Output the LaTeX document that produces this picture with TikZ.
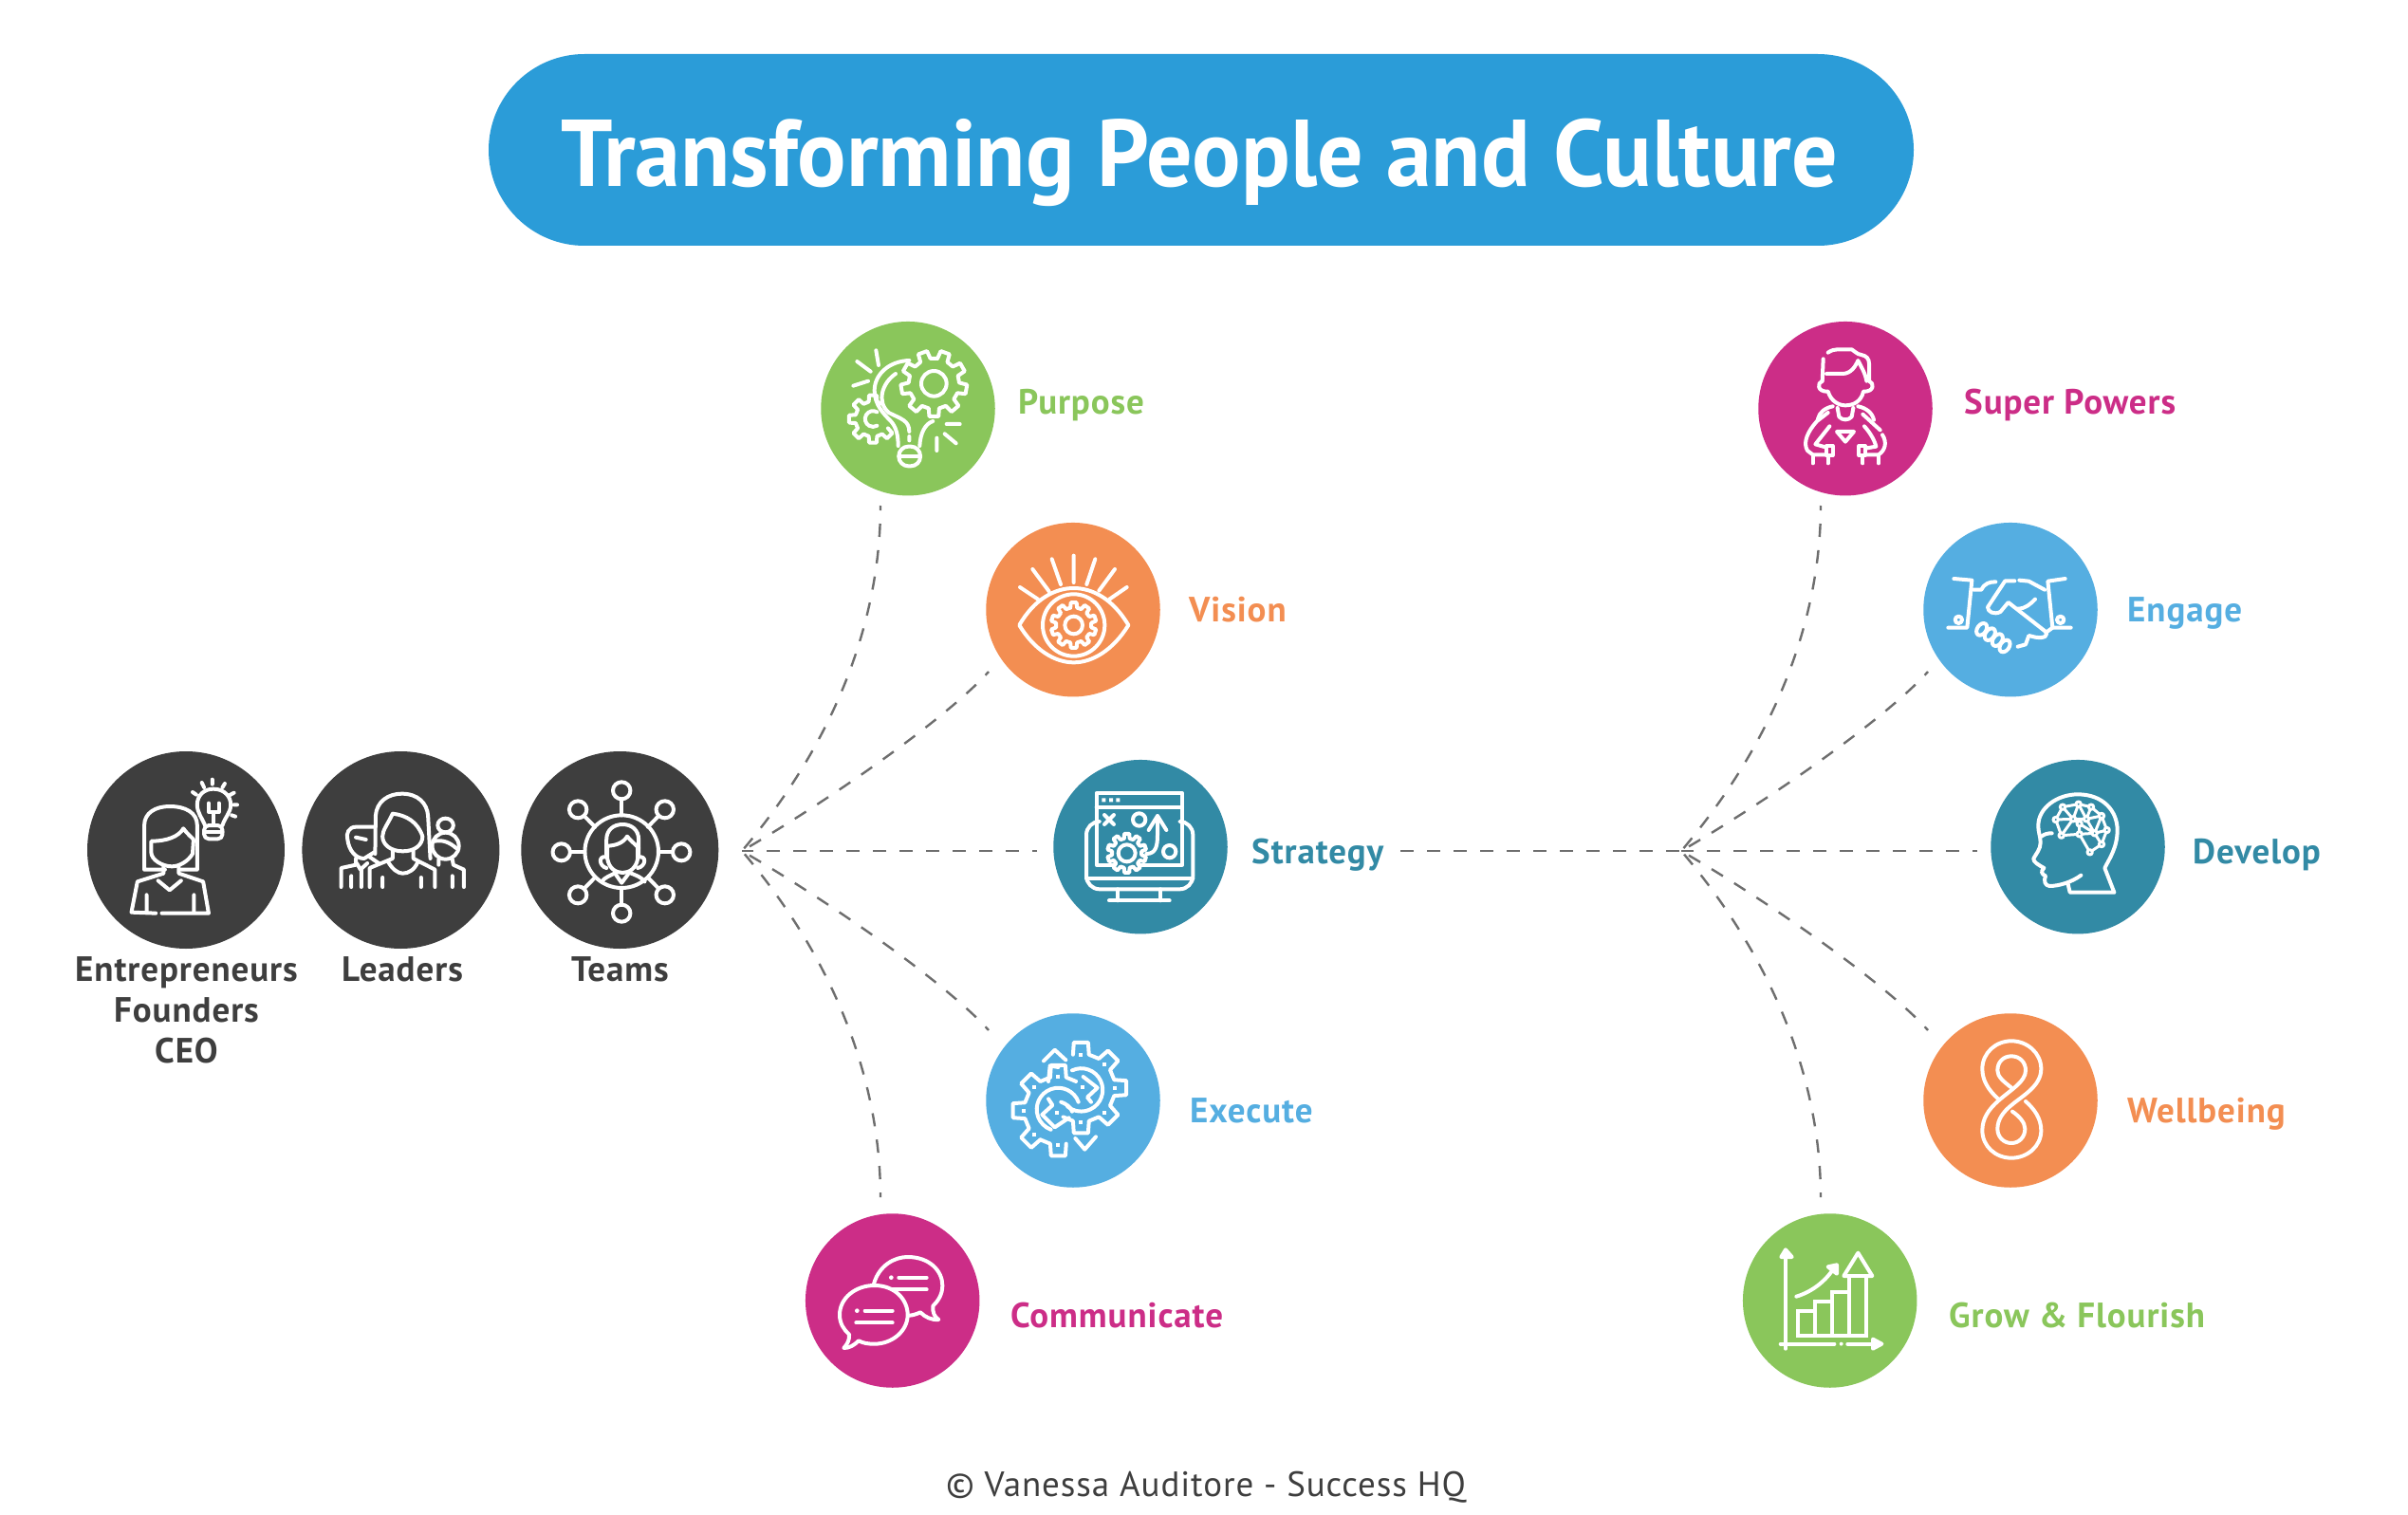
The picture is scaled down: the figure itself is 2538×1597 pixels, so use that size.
\documentclass[tikz,border=0pt]{standalone}
\usepackage{fontspec}
\setmainfont{PT Sans}
\newfontfamily\labfont[LetterSpace=2.5]{PT Sans}
\newfontfamily\titlefont[FakeStretch=0.96]{PT Sans}
\definecolor{cgreen}{HTML}{8AC65B}
\definecolor{corange}{HTML}{F38E52}
\definecolor{cteal}{HTML}{328AA5}
\definecolor{cblue}{HTML}{55AEE1}
\definecolor{cmag}{HTML}{CC2D87}
\definecolor{cdark}{HTML}{3E3E3E}
\definecolor{cpill}{HTML}{2B9CD8}
\definecolor{cconn}{HTML}{6E6E6E}
\tikzset{
  ic/.style={draw=white,line width=4pt,line cap=round,line join=round},
  disc/.style={circle,inner sep=0pt,minimum size=183.5pt,fill=#1},
  bigdisc/.style={circle,inner sep=0pt,minimum size=208pt,fill=cdark},
  lab/.style={anchor=base west,inner sep=0pt,font=\labfont\bfseries\fontsize{37}{42}\selectfont,text=#1},
  darklab/.style={inner sep=0pt,font=\labfont\bfseries\fontsize{37}{43}\selectfont,text=cdark,align=center},
  conn/.style={draw=cconn,line width=2.4pt,dash pattern=on 14pt off 14pt,dash phase=9pt},
  zoomin/.style 2 args={shift={(#1,#2)},scale=1/3},
  zoomleft/.style={shift={(60,770)},xscale=1/2.063,yscale=1/3}
}
\newcommand{\geararc}[9][]{\begin{scope}[shift={(#2,#3)}]
 \pgfmathsetmacro\gstep{360/#6}\pgfmathsetmacro\ghalf{0.2*\gstep}\pgfmathsetmacro\ghalfb{0.3*\gstep}
 \draw[ic,#1] ({#7+#8*\gstep-\ghalfb}:#4) \foreach \k in {#8,...,#9} { -- ({#7+\k*\gstep-\ghalf}:#5) -- ({#7+\k*\gstep+\ghalf}:#5) -- ({#7+\k*\gstep+\ghalfb}:#4) -- ({#7+(\k+1)*\gstep-\ghalfb}:#4)};
 \end{scope}}
\begin{document}
\begin{tikzpicture}[x=1pt,y=-1pt]
\path[fill=white,use as bounding box] (0,0) rectangle (2538,1597);
% title
\node[fill=cpill,rounded corners=101pt,minimum width=1502pt,minimum height=202pt,inner sep=0pt] (pill) at (1266,158) {};
\node[anchor=base,inner sep=0pt,text=white,font=\titlefont\bfseries\fontsize{100}{110}\selectfont] (title) at (1264.5,197) {Transforming People and Culture};
% dark circles
\node[bigdisc] (ent) at (196,896) {};
\node[bigdisc] (lead) at (422.4,896) {};
\node[bigdisc] (teams) at (653.3,896) {};
\node[darklab,anchor=north] (entL) at (196.5,1008) {Entrepreneurs\\Founders\\CEO};
\node[darklab,anchor=base] (leadL) at (424,1034) {Leaders};
\node[darklab,anchor=base] (teamsL) at (653.5,1034) {Teams};
% coloured discs
\node[disc=cgreen] (purpose) at (957,430.7) {};
\node[disc=corange] (vision) at (1131,642.7) {};
\node[disc=cteal] (strategy) at (1202,892.7) {};
\node[disc=cblue] (execute) at (1131,1160) {};
\node[disc=cmag] (communicate) at (940.7,1371) {};
\node[disc=cmag] (super) at (1945,430.7) {};
\node[disc=cblue] (engage) at (2119,642.7) {};
\node[disc=cteal] (develop) at (2190,892.7) {};
\node[disc=corange] (wellbeing) at (2119,1160) {};
\node[disc=cgreen] (grow) at (1928.7,1371) {};
% labels
\node[lab=cgreen] (purposeL) at (1073,436) {Purpose};
\node[lab=corange] (visionL) at (1253,655) {Vision};
\node[lab=cteal] (strategyL) at (1319,910) {Strategy};
\node[lab=cblue] (executeL) at (1254,1183) {Execute};
\node[lab=cmag] (communicateL) at (1065,1399) {Communicate};
\node[lab=cmag] (superL) at (2070,436) {Super Powers};
\node[lab=cblue] (engageL) at (2242,655) {Engage};
\node[lab=cteal] (developL) at (2311,910) {Develop};
\node[lab=corange] (wellbeingL) at (2242,1183) {Wellbeing};
\node[lab=cgreen] (growL) at (2054,1399) {Grow \& Flourish};
\node[anchor=base,inner sep=0pt,text=cdark,font=\labfont\fontsize{37}{42}\selectfont] (copy) at (1271,1577) {© Vanessa Auditore - Success HQ};
% connector ends
\coordinate (hubL) at (782,897);
\coordinate (hubR) at (1772,897);
\coordinate (pE) at (928,533);
\coordinate (vE) at (1042,708);
\coordinate (sE) at (1093,897);
\coordinate (xE) at (1042,1086);
\coordinate (cE) at (928,1262);
\coordinate (spE) at (1919,533);
\coordinate (enE) at (2032,708);
\coordinate (deE) at (2084,897);
\coordinate (weE) at (2032,1086);
\coordinate (grE) at (1919,1262);
\coordinate (stOut) at (1476,897);
\draw[conn] (pE) .. controls (928,640) and (890,770) .. (hubL);
\draw[conn] (vE) .. controls (1000,755) and (880,840) .. (hubL);
\draw[conn] (sE) -- (hubL);
\draw[conn] (xE) .. controls (1000,1039) and (880,954) .. (hubL);
\draw[conn] (cE) .. controls (928,1154) and (890,1024) .. (hubL);
\draw[conn] (spE) .. controls (1919,640) and (1880,770) .. (hubR);
\draw[conn] (enE) .. controls (1990,755) and (1870,840) .. (hubR);
\draw[conn] (deE) -- (hubR);
\draw[conn] (weE) .. controls (1990,1039) and (1870,954) .. (hubR);
\draw[conn] (grE) .. controls (1919,1154) and (1880,1024) .. (hubR);
\draw[conn,dash phase=0pt] (stOut) -- (hubR);

% ---------- Purpose
\begin{scope}[zoomin={840}{320}]
\draw[ic] (250,148)--(258,195) (190,183)--(233,215) (178,260)--(225,245) (473,381)--(515,381) (467,412)--(503,442) (442,425)--(442,465);
\draw[ic] (355,180) .. controls (290,182) and (245,225) .. (245,275) .. controls (245,320) and (275,350) .. (295,370) .. controls (315,390) and (320,420) .. (320,450);
\draw[ic] (312,222) .. controls (270,250) and (250,310) .. (290,345) .. controls (330,365) and (355,370) .. (355,405) (355,420)--(355,433);
\draw[ic] (430,372) .. controls (405,380) and (390,410) .. (388,450);
\draw[ic,rounded corners=10pt] (322,452) -- (322,514) -- (390,514) -- (390,452) -- cycle;
\draw[ic] (322,483)--(390,483);
\geararc{433}{253}{80}{105}{9}{-70}{0}{8}
\draw[ic] (433,253) circle (40);
\geararc{240}{365}{56}{76}{8}{45}{0}{5}
\draw[ic] (253,343) arc (-60:-300:25);
% ---------- Vision
\draw[ic] (703,1017) .. controls (750,935) and (815,900) .. (875,900) .. controls (935,900) and (1000,935) .. (1048,1017) .. controls (1000,1095) and (935,1135) .. (875,1135) .. controls (815,1135) and (750,1095) .. cycle;
\draw[ic] (875,1017) circle (98);
\geararc{875}{1017}{56}{72}{10}{-90}{0}{9}
\draw[ic] (875,1017) circle (28);
\draw[ic] (705,897)--(762,935) (745,840)--(797,910) (806,808)--(834,888) (875,797)--(875,882) (943,808)--(916,888) (1005,840)--(955,908) (1043,897)--(988,935);
\end{scope}
% ---------- Strategy
\begin{scope}[zoomin={1090}{780}]
\draw[ic,line cap=butt] (197,168) rectangle (468,395);
\draw[ic] (197,212)--(468,212);
\fill[white] (214,184) rectangle (226,196) (237,184) rectangle (249,196) (259,184) rectangle (271,196);
\draw[ic] (222,237)--(252,267) (252,237)--(222,267);
\draw[ic] (332,252) circle (20) (428,353) circle (20);
\draw[ic] (355,360) .. controls (385,360) and (390,335) .. (390,300) -- (390,240);
\draw[ic] (362,285)--(390,240)--(418,285);
\geararc[fill=cteal]{293}{358}{47}{62}{10}{-90}{0}{9}
\draw[ic] (293,358) circle (27);
\draw[ic,rounded corners=14pt] (197,258) -- (165,258) -- (165,472) -- (502,472) -- (502,258) -- (468,258);
\draw[ic] (165,437)--(502,437) (265,472)--(265,508) (400,472)--(400,508) (237,508)--(428,508);
\end{scope}
% ---------- Execute
\begin{scope}[zoomin={840}{1060}]
\geararc{898}{260}{108}{145}{8}{-90}{0}{4}
\draw[ic] (780,175)--(815,140)--(850,172);
\geararc{826}{332}{108}{145}{8}{-90}{0}{0}
\geararc{826}{332}{108}{145}{8}{-90}{5}{7}
\draw[ic] (826,195)--(800,190)--(795,240);
\geararc{826}{332}{108}{145}{8}{-90}{4}{4}
\draw[ic] (880,420)--(910,455)--(945,415);
\draw[ic] (870,205) arc (-115:130:68);
\draw[ic] (890,305) arc (-20:-250:68);
\draw[ic] (835,305) .. controls (850,310) and (865,320) .. (870,335);
\draw[ic] (905,225)--(950,260)--(918,290)--(930,305);
\draw[ic] (795,295)--(808,315)--(775,345)--(815,385)--(860,355);
\foreach \a/\b in {898/155,972/185,1005/260,972/338,898/368,826/225,902/257,822/338,750/258,718/332,750/408,826/440}{\fill[white] (\a-6,\b-6) rectangle (\a+6,\b+6);}
\end{scope}
% ---------- Communicate
\begin{scope}[zoomin={840}{1060}]
\draw[ic] (243,880) .. controls (260,820) and (310,795) .. (350,795) .. controls (420,795) and (460,840) .. (460,885) .. controls (460,915) and (445,935) .. (430,950) .. controls (428,970) and (435,985) .. (448,993) .. controls (425,995) and (405,985) .. (390,970) .. controls (380,975) and (365,980) .. (355,980);
\draw[ic] (245,885) .. controls (310,885) and (350,930) .. (350,978) .. controls (350,1030) and (300,1070) .. (245,1070) .. controls (225,1070) and (210,1068) .. (195,1060) .. controls (180,1075) and (165,1083) .. (148,1083) .. controls (160,1070) and (167,1055) .. (165,1040) .. controls (148,1025) and (135,1005) .. (135,978) .. controls (135,925) and (185,885) .. cycle;
\draw[ic] (322,860)--(410,860) (302,898)--(410,898) (215,965)--(302,965) (187,1003)--(302,1003);
\fill[white] (298,860) circle (7) (190,965) circle (7);
\end{scope}
% ---------- Super Powers
\begin{scope}[zoomin={1830}{320}]
\draw[ic] (290,155) .. controls (300,148) and (310,145) .. (320,145) -- (365,145) .. controls (375,150) and (380,160) .. (395,162) .. controls (412,165) and (420,175) .. (420,190) -- (420,245);
\draw[ic] (275,175) -- (272,245);
\draw[ic] (285,222) -- (335,222) .. controls (365,222) and (378,195) .. (385,180) .. controls (395,200) and (408,220) .. (412,245);
\draw[ic] (272,245) .. controls (255,250) and (255,280) .. (290,278) .. controls (300,310) and (325,322) .. (345,322) .. controls (370,322) and (395,310) .. (402,278) .. controls (437,280) and (437,250) .. (420,245);
\draw[ic] (258,365) .. controls (262,345) and (280,330) .. (305,325) (320,330) -- (325,358) .. controls (335,370) and (355,370) .. (365,358) -- (370,330) (385,325) .. controls (410,330) and (430,345) .. (435,368);
\draw[ic] (290,345) -- (255,372) .. controls (225,405) and (210,440) .. (225,465) -- (242,478) -- (285,478);
\draw[ic] (295,388) -- (250,445) -- (285,455);
\draw[ic] (405,388) .. controls (425,410) and (438,435) .. (442,452) -- (408,458);
\draw[ic] (285,450) rectangle (305,480) (388,450) rectangle (408,480);
\draw[ic] (242,480)--(242,505) (290,480)--(290,505) (400,480)--(400,505) (450,480)--(450,505);
\draw[ic] (318,405) -- (372,405) -- (345,437) -- cycle;
\draw[ic] (400,350) -- (455,400) (462,415) .. controls (478,440) and (470,465) .. (450,478) -- (410,478);
% ---------- Engage
\draw[ic] (688,870) -- (745,875) -- (730,1025) -- (670,1025);
\draw[ic] (1040,870) -- (985,878) -- (1000,1025) -- (1058,1025);
\draw[ic] (703,1000) circle (11) (1025,1000) circle (11);
\draw[ic] (750,905) -- (775,905) .. controls (785,885) and (800,880) .. (820,880);
\draw[ic] (895,875) -- (925,878) -- (975,905);
\draw[ic] (880,877) -- (850,877) -- (795,960) .. controls (795,975) and (815,985) .. (835,975) -- (860,945) -- (975,1035) .. controls (990,1050) and (975,1060) .. (945,1055) -- (925,1050) -- (915,1078) -- (890,1085);
\draw[ic] (945,935) .. controls (930,950) and (915,965) .. (890,965);
\draw[ic] (980,1040) -- (1000,1025);
\foreach \a/\b in {776/1030,802/1046,826/1064,849/1083}{\draw[ic] (\a,\b) ellipse [x radius=14,y radius=21,rotate=-35];}
\end{scope}
% ---------- Develop
\begin{scope}[zoomin={2060}{780}]
\draw[ic] (505,482) -- (365,482) -- (358,452) (400,428) .. controls (370,450) and (330,462) .. (300,462) .. controls (285,460) and (282,445) .. (288,430) .. controls (275,425) and (272,415) .. (283,405) .. controls (265,395) and (248,385) .. (250,375) .. controls (258,360) and (272,345) .. (272,325) .. controls (272,305) and (265,295) .. (265,270) .. controls (265,215) and (325,172) .. (390,172) .. controls (470,172) and (515,225) .. (515,285) .. controls (515,340) and (490,375) .. (475,405) -- (505,482);
\draw[ic] (275,305) .. controls (285,297) and (295,295) .. (308,295);
\draw[ic,line width=3pt] (342,212)--(392,203)--(432,212)--(465,240)--(482,285)--(465,330)--(428,355)--(395,298)--(338,302)--(320,252)--(342,212) (342,212)--(375,250)--(392,203)--(417,250)--(432,212) (320,252)--(375,250)--(417,250)--(465,240) (417,250)--(443,295)--(482,285) (443,295)--(465,240) (375,250)--(395,265)--(443,295)--(465,330) (395,265)--(395,298)--(443,295) (375,250)--(338,302);
\foreach \a/\b in {342/212,392/203,432/212,465/240,482/285,465/330,428/355,338/302,320/252,375/250,395/298,443/295,417/250,395/265}{\draw[ic,line width=3pt,fill=cteal] (\a,\b) circle (8);}
\end{scope}
% ---------- Wellbeing
\begin{scope}[zoomin={1830}{1060}]
\draw[ic] (828,295) .. controls (795,265) and (778,235) .. (778,200) .. controls (778,150) and (820,112) .. (870,112) .. controls (920,112) and (964,150) .. (964,200) .. controls (964,255) and (905,285) .. (870,315) .. controls (845,335) and (826,360) .. (826,390) .. controls (826,415) and (845,435) .. (870,435) .. controls (895,435) and (913,415) .. (913,390) .. controls (913,370) and (895,350) .. (873,335);
\draw[ic] (868,258) .. controls (845,240) and (826,225) .. (826,205) .. controls (826,178) and (845,160) .. (870,160) .. controls (895,160) and (915,178) .. (915,205) .. controls (915,240) and (870,265) .. (830,300) .. controls (795,330) and (778,360) .. (778,395) .. controls (778,445) and (820,482) .. (870,482) .. controls (920,482) and (964,445) .. (964,395) .. controls (964,355) and (940,325) .. (915,303);
% ---------- Grow
\draw[ic] (156,775)--(156,1085) (140,1070)--(310,1070) (352,1070)--(455,1070);
\draw[ic,fill=white] (142,795)--(156,772)--(176,795)--cycle (432,1055)--(460,1070)--(432,1085)--cycle;
\fill[white] (332,1070) circle (6);
\draw[ic,line join=miter] (195,1043) rectangle (248,965) (248,1043) rectangle (303,935) (303,1043) rectangle (358,905) (358,1043) rectangle (412,855);
\draw[ic] (358,855) -- (340,855) -- (385,782) -- (430,855) -- (412,855);
\draw[ic] (190,920) .. controls (240,905) and (285,870) .. (312,825);
\draw[ic,fill=white] (290,826)--(318,820)--(318,848)--cycle;
\end{scope}
% ---------- Entrepreneur
\begin{scope}[zoomleft]
\draw[ic] (235,440) -- (190,440) -- (190,300) .. controls (190,260) and (215,240) .. (245,240) .. controls (280,240) and (305,260) .. (305,300) -- (305,440) -- (270,440);
\draw[ic] (205,350) .. controls (240,350) and (265,335) .. (275,310) .. controls (285,330) and (295,340) .. (297,345) -- (295,390) .. controls (285,415) and (265,430) .. (250,430) .. controls (230,430) and (205,410) .. (205,385) -- cycle;
\draw[ic] (232,430)--(232,452)--(175,478)--(162,575)--(215,578) (265,430)--(265,452)--(318,478)--(330,578)--(228,578);
\draw[ic] (220,475)--(245,505)--(270,475) (195,520)--(195,575) (298,520)--(298,575);
\draw[ic] (322,300) .. controls (315,275) and (305,260) .. (305,235) .. controls (305,205) and (320,185) .. (340,185) .. controls (365,185) and (378,210) .. (378,235) .. controls (378,260) and (365,275) .. (360,300);
\draw[ic,rounded corners=5pt] (320,300) rectangle (360,343);
\draw[ic] (320,320)--(360,320) (330,230)--(330,258)--(352,258)--(352,230) (340,258)--(340,298);
\draw[ic] (338,155)--(338,170) (315,165)--(320,180) (295,195)--(303,203) (365,168)--(360,180) (385,197)--(375,205) (385,235)--(392,235) (380,268)--(388,272);
\end{scope}
% ---------- Leaders
\begin{scope}[zoomleft]
\draw[ic] (692,390) -- (693,270) .. controls (695,225) and (720,200) .. (750,200) .. controls (785,200) and (805,230) .. (807,270) -- (812,405);
\draw[ic] (730,263) .. controls (760,268) and (785,290) .. (795,335) .. controls (795,360) and (780,382) .. (752,382) .. controls (725,382) and (708,360) .. (708,335) .. controls (708,315) and (720,295) .. (730,263);
\draw[ic] (730,382)--(730,405)--(680,435)--(680,495) (775,382)--(775,405)--(822,440)--(822,495);
\draw[ic] (720,415) .. controls (730,440) and (742,452) .. (752,452) .. controls (765,452) and (778,440) .. (785,415) (708,465)--(708,495) (792,465)--(792,495);
\draw[ic] (690,305) -- (650,305) .. controls (635,305) and (628,325) .. (632,345) .. controls (635,380) and (650,405) .. (668,405) -- (690,385) (650,338)--(672,345);
\draw[ic] (650,405)--(650,425)--(618,435)--(618,495) (640,460)--(640,495) (662,440)--(662,495) (652,420)--(660,440)--(675,420) (680,400)--(700,420);
\draw[ic] (845,300) ellipse [x radius=17,y radius=22];
\draw[ic] (845,365) ellipse [x radius=29,y radius=42];
\draw[ic] (822,350) .. controls (840,345) and (855,355) .. (868,372);
\draw[ic] (860,408)--(862,425)--(885,440)--(885,495) (860,460)--(860,495) (830,408)--(830,425);
\end{scope}
% ---------- Teams
\begin{scope}[zoomleft]
\draw[ic] (1228,383) ellipse [x radius=80,y radius=115];
\foreach \a/\b/\c/\d in {1228/190/1228/268,1322/250/1285/305,1358/385/1308/385,1322/520/1285/465,1228/578/1228/498,1133/520/1170/465,1097/385/1148/385,1133/250/1170/305}{
\draw[ic] (\c,\d) -- (\a,\b);
\draw[ic,fill=cdark] (\a,\b) ellipse [x radius=19,y radius=27];}
\draw[ic] (1195,395) -- (1195,345) .. controls (1195,315) and (1210,297) .. (1230,297) .. controls (1250,297) and (1265,315) .. (1265,345) -- (1265,395);
\draw[ic] (1195,365) .. controls (1215,365) and (1232,355) .. (1240,335) .. controls (1248,350) and (1258,360) .. (1265,372);
\draw[ic] (1197,370) -- (1197,405) .. controls (1200,435) and (1215,450) .. (1230,450) .. controls (1245,450) and (1260,435) .. (1263,405) -- (1263,370);
\draw[ic] (1195,400) .. controls (1175,395) and (1180,430) .. (1195,435) (1263,400) .. controls (1285,395) and (1280,430) .. (1263,435);
\draw[ic] (1185,478) .. controls (1190,465) and (1205,458) .. (1215,450) (1245,450) .. controls (1260,458) and (1272,465) .. (1278,478) (1215,455)--(1228,482)--(1242,455);
\end{scope}
\end{tikzpicture}
\end{document}
